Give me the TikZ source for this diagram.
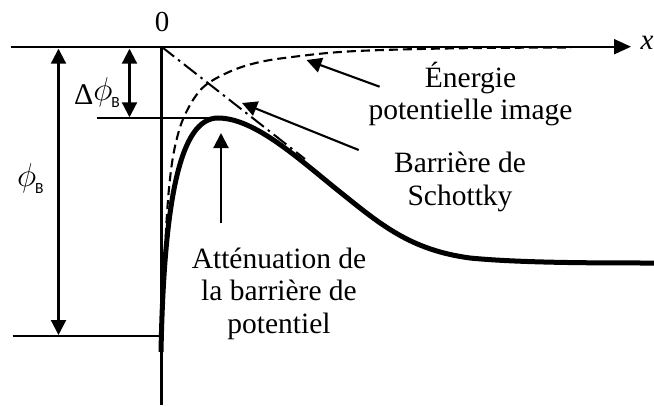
\RequirePackage{fix-cm}
\documentclass[tikz,border=0pt]{standalone}
\usepackage{fontspec}
\setmainfont{Liberation Serif}
\newfontfamily\subfont{Carlito}
\usetikzlibrary{arrows.meta}
\newcommand{\subB}{\raisebox{-3.5pt}{\subfont\fontsize{15.5}{15.5}\selectfont B}}
\newcommand{\bigphi}{\raisebox{4pt}{\fontsize{33}{33}\selectfont$\phi$}}
\begin{document}
\begin{tikzpicture}[x=1pt,y=-1pt,
  every node/.style={inner sep=0pt, outer sep=0pt},
  axisline/.style={line width=2.1pt},
  bigtip/.style={-{Triangle[length=17pt,width=15pt]}},
  onetip/.style={-{Triangle[length=15pt,width=15pt]}},
  twotip/.style={{Triangle[length=15pt,width=15pt]}-{Triangle[length=15pt,width=15pt]}, shorten <=2pt, shorten >=1pt},
  curve/.style={line width=5pt},
  imagepot/.style={line width=2.1pt, dash pattern=on 9pt off 5pt},
  schottky/.style={line width=2pt, dash pattern=on 16pt off 5pt on 2.5pt off 5pt},
  lab/.style={font=\fontsize{29.5}{32.5}\selectfont, align=center},
]
\useasboundingbox (0,0) rectangle (654,407);

% coordinates
\coordinate (O) at (161.5,46.7);
\coordinate (axL) at (10.5,46.7);
\coordinate (axR) at (631,46.7);
\coordinate (vBot) at (161.5,405);
\coordinate (dTop) at (129.5,46.7);
\coordinate (dBot) at (129.5,118.3);
\coordinate (pTop) at (58.5,46.7);
\coordinate (pBot) at (58.5,336);
\coordinate (midL) at (96.8,118.3);
\coordinate (midR) at (218,118.3);
\coordinate (lowL) at (12.5,336);
\coordinate (lowR) at (161.5,336);
\coordinate (sbEnd) at (305,159);
\coordinate (eTail) at (379.6,86.7);
\coordinate (eTip) at (306.5,60);
\coordinate (bTail) at (358.7,150);
\coordinate (bTip) at (242,103);
\coordinate (aTail) at (221,223);
\coordinate (aTip) at (221,133);

% axes and reference lines
\draw[axisline, bigtip] (axL) -- (axR);
\draw[axisline] (O) -- (vBot);
\draw[axisline] (midL) -- (midR);
\draw[axisline] (lowL) -- (lowR);
\draw[axisline, twotip] (dTop) -- (dBot);
\draw[axisline, twotip] (pTop) -- (pBot);

% Schottky barrier (dash-dot)
\draw[schottky] (O) -- (sbEnd);

% image potential (dashed)
\draw[imagepot] plot[smooth, tension=0.6] coordinates {
  (161.8,335) (163,300) (165,250) (168,200) (172,163) (177,138) (183.5,118)
  (195,97) (208.5,83) (233.6,70) (260,62) (292,57) (340,52) (400,49.5) (480,48) (571,47.5)};

% lowered barrier (thick)
\draw[curve] (161,352) .. controls (164,200) and (180,118) .. (218,118)
  .. controls (255,118) and (300,160) .. (340,192)
  .. controls (380,224) and (410,250) .. (470,258)
  .. controls (520,263) and (600,263) .. (654,263);

% labels
\node[font=\fontsize{29}{29}\selectfont] (zero) at (162,21.7) {0};
\node[font=\fontsize{29}{29}\selectfont\itshape] (xlab) at (647,43) {x};
\node[anchor=base west] (dphi) at (74,104) {{\fontsize{30}{30}\selectfont Δ}\bigphi\kern-1pt\subB};
\node[anchor=base west] (phib) at (17,190) {\bigphi\kern-1pt\subB};
\node[lab] (ener) at (470.5,94.2) {Énergie\\potentielle image};
\node[lab] (barr) at (460,182.1) {Barrière de\\Schottky};
\node[lab] (att) at (279,293.8) {Atténuation de\\la barrière de\\potentiel};

% pointer arrows
\draw[axisline, onetip] (eTail) -- (eTip);
\draw[axisline, onetip] (bTail) -- (bTip);
\draw[axisline, onetip] (aTail) -- (aTip);
\end{tikzpicture}
\end{document}
